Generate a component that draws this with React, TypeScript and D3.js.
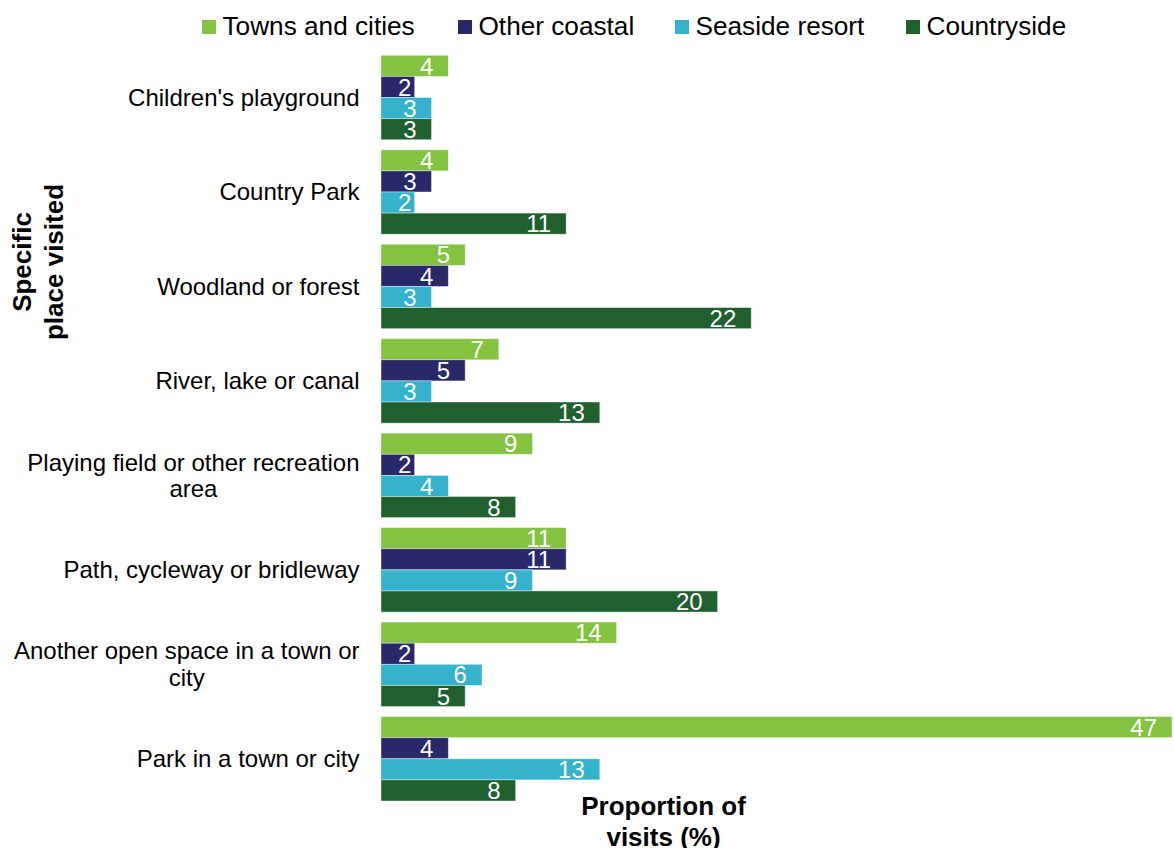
import React from "react";
import * as d3 from "d3";

const categories = [
  "Children's playground",
  "Country Park",
  "Woodland or forest",
  "River, lake or canal",
  "Playing field or other recreation area",
  "Path, cycleway or bridleway",
  "Another open space in a town or city",
  "Park in a town or city",
];

const categoryLines: string[][] = [
  ["Children's playground"],
  ["Country Park"],
  ["Woodland or forest"],
  ["River, lake or canal"],
  ["Playing field or other recreation", "area"],
  ["Path, cycleway or bridleway"],
  ["Another open space in a town or", "city"],
  ["Park in a town or city"],
];

const seriesNames = ["Towns and cities", "Other coastal", "Seaside resort", "Countryside"];
const seriesColors = ["#83C341", "#292868", "#35B2CC", "#20602F"];

const townsAndCities = [4, 4, 5, 7, 9, 11, 14, 47];
const otherCoastal = [2, 3, 4, 5, 2, 11, 2, 4];
const seasideResort = [3, 2, 3, 3, 4, 9, 6, 13];
const countryside = [3, 11, 22, 13, 8, 20, 5, 8];

const seriesValues = [townsAndCities, otherCoastal, seasideResort, countryside];

const FONT = "'Liberation Sans', Arial, Helvetica, sans-serif";

let ctx: CanvasRenderingContext2D | null = null;
function measure(text: string, size: number, weight = "normal") {
  if (!ctx) {
    const c = document.createElement("canvas");
    ctx = c.getContext("2d");
  }
  if (!ctx) return text.length * size * 0.5;
  ctx.font = `${weight} ${size}px 'Liberation Sans', Arial, sans-serif`;
  return ctx.measureText(text).width;
}

const legendX = [202, 458, 675, 906];

export default function App() {
  const W = 1174;
  const H = 848;
  const x = d3.scaleLinear().domain([0, 47]).range([381, 1172]);
  const y = d3
    .scaleBand<string>()
    .domain(categories)
    .range([55.3, 801])
    .paddingInner(0.106)
    .paddingOuter(0);
  const ys = d3
    .scaleBand<string>()
    .domain(seriesNames)
    .range([0, y.bandwidth()])
    .padding(0);

  const labelSize = 24;
  const legendSize = 26.2;

  return (
    <svg
      width={W}
      height={H}
      style={{ position: "absolute", left: 0, top: 0, background: "#fff" }}
      fontFamily={FONT}
    >
      {/* legend */}
      {seriesNames.map((name, i) => (
        <g key={name}>
          <rect x={legendX[i]} y={20} width={14} height={14} fill={seriesColors[i]} />
          <text x={legendX[i] + 20.5} y={34.5} fontSize={legendSize} fill="#000">
            {name}
          </text>
        </g>
      ))}

      {/* bars */}
      {categories.map((cat, ci) => (
        <g key={cat} transform={`translate(0,${y(cat)})`}>
          {seriesNames.map((s, si) => {
            const v = seriesValues[si][ci];
            const x0 = x(0);
            const x1 = x(v);
            const by = ys(s) as number;
            const bh = ys.bandwidth();
            const label = String(v);
            const tw = measure(label, labelSize);
            const tEnd = Math.max(x1 - 15, x0 + 17 + tw);
            return (
              <g key={s}>
                <rect
                  x={x0}
                  y={by}
                  width={x1 - x0}
                  height={bh}
                  fill={seriesColors[si]}
                  stroke="#ffffff"
                  strokeOpacity={0.5}
                  strokeWidth={0.8}
                />
                <text
                  x={tEnd}
                  y={by + bh / 2}
                  dy="0.36em"
                  textAnchor="end"
                  fontSize={labelSize}
                  fill="#ffffff"
                >
                  {label}
                </text>
              </g>
            );
          })}
        </g>
      ))}

      {/* category labels */}
      {categories.map((cat, ci) => {
        const lines = categoryLines[ci];
        const cy = (y(cat) as number) + y.bandwidth() / 2;
        const maxW = Math.max(...lines.map((l) => measure(l, labelSize)));
        const cx = 359.5 - maxW / 2;
        const lh = 26.5;
        const startY = cy - ((lines.length - 1) * lh) / 2;
        return (
          <text key={cat} fontSize={labelSize} fill="#000" textAnchor="middle">
            {lines.map((l, li) => (
              <tspan key={li} x={cx} y={startY + li * lh} dy="0.35em">
                {l}
              </tspan>
            ))}
          </text>
        );
      })}

      {/* y axis title */}
      <g transform="translate(31,262) rotate(-90)">
        <text textAnchor="middle" fontSize={26} fontWeight="bold" fill="#000">
          <tspan x={0} y={0}>Specific</tspan>
          <tspan x={0} y={32}>place visited</tspan>
        </text>
      </g>

      {/* x axis title */}
      <text textAnchor="middle" fontSize={26} fontWeight="bold" fill="#000">
        <tspan x={663.5} y={815}>Proportion of</tspan>
        <tspan x={663.5} y={846}>visits (%)</tspan>
      </text>
    </svg>
  );
}
